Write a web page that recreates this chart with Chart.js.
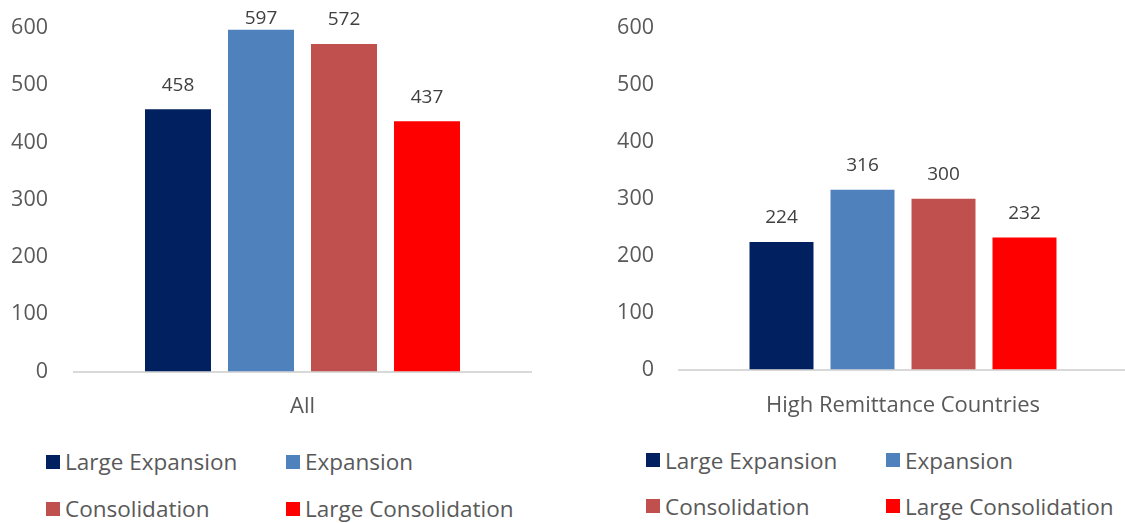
<!DOCTYPE html>
<html>
<head>
<meta charset="utf-8">
<script src="https://cdn.jsdelivr.net/npm/chart.js@4.4.1/dist/chart.umd.min.js"></script>
<style>
  html, body { margin: 0; padding: 0; background: #fff; }
  body { width: 1125px; height: 523px; position: relative; overflow: hidden; font-family: "Open Sans", sans-serif; }
  canvas { position: absolute; top: 0; }
  #chartAll { left: 0; }
  #chartHigh { left: 560px; }
  .legend { position: absolute; display: grid; grid-template-columns: 240px 240px; }
  .legend-item { display: flex; align-items: center; color: #595959; font-size: 22.5px; white-space: nowrap; }
  .legend-box { width: 14px; height: 14px; margin-right: 5px; flex: none; }
  #legendAll { left: 46px; top: 438px; grid-auto-rows: 47px; }
  #legendHigh { left: 646px; top: 437px; grid-auto-rows: 46px; }
</style>
</head>
<body>
<canvas id="chartAll" width="545" height="430"></canvas>
<canvas id="chartHigh" width="567" height="430"></canvas>
<div id="legendAll" class="legend"></div>
<div id="legendHigh" class="legend"></div>
<script>
const seriesNames = ['Large Expansion', 'Expansion', 'Consolidation', 'Large Consolidation'];
const seriesColors = ['#002060', '#4F81BD', '#C0504D', '#FF0000'];

const categoriesAll = ['All'];
const valuesAll = [458, 597, 572, 437];

const categoriesHigh = ['High Remittance Countries'];
const valuesHigh = [224, 316, 300, 232];

const yMin = 0;
const yMax = 600;
const yStep = 100;

const fontFamily = '"Open Sans", sans-serif';

// draws the number above each bar (kept inside the plot like excel does)
const valueLabels = {
    id: 'valueLabels',
    afterDatasetsDraw(chart) {
        const ctx = chart.ctx;
        ctx.save();
        ctx.font = '19px ' + fontFamily;
        ctx.fillStyle = '#404040';
        ctx.textAlign = 'center';
        ctx.textBaseline = 'middle';
        chart.data.datasets.forEach((ds, i) => {
            chart.getDatasetMeta(i).data.forEach((bar, j) => {
                const y = Math.max(bar.y - 24, chart.chartArea.top - 9);
                ctx.fillText(ds.data[j], bar.x, y);
            });
        });
        ctx.restore();
    }
};

function makeChart(id, categories, values, opts) {
    const ctx = document.getElementById(id).getContext('2d');
    return new Chart(ctx, {
        type: 'bar',
        data: {
            labels: categories,
            datasets: seriesNames.map((name, i) => ({
                label: name,
                data: [values[i]],
                backgroundColor: seriesColors[i],
                categoryPercentage: opts.catPct,
                barPercentage: opts.barPct
            }))
        },
        options: {
            responsive: false,
            animation: false,
            devicePixelRatio: 1,
            layout: { padding: { top: 28, right: opts.padRight, bottom: 0, left: 0 } },
            plugins: {
                legend: { display: false },
                tooltip: { enabled: false }
            },
            scales: {
                x: {
                    grid: { display: false, drawTicks: false },
                    border: { display: true, color: '#D9D9D9', width: 2 },
                    ticks: {
                        padding: opts.xPad,
                        color: '#595959',
                        font: { family: fontFamily, size: 22 }
                    },
                    afterFit: s => { s.height = opts.xHeight; }
                },
                y: {
                    min: yMin,
                    max: yMax,
                    grid: { display: false, drawTicks: false },
                    border: { display: false },
                    ticks: {
                        stepSize: yStep,
                        padding: opts.yPad,
                        color: '#595959',
                        font: { family: fontFamily, size: 21.5 }
                    },
                    afterFit: s => {
                        s.width = opts.yWidth;
                        // tick padding would otherwise push the plot top down
                        s.paddingTop = 0;
                        s.paddingBottom = 0;
                    }
                }
            }
        },
        plugins: [valueLabels]
    });
}

function buildLegend(chart, elId) {
    const el = document.getElementById(elId);
    const items = Chart.defaults.plugins.legend.labels.generateLabels(chart);
    items.forEach(item => {
        const div = document.createElement('div');
        div.className = 'legend-item';
        const box = document.createElement('span');
        box.className = 'legend-box';
        box.style.background = item.fillStyle;
        const txt = document.createElement('span');
        txt.textContent = item.text;
        div.appendChild(box);
        div.appendChild(txt);
        el.appendChild(div);
    });
}

const chartAll = makeChart('chartAll', categoriesAll, valuesAll, {
    catPct: 0.7265, barPct: 0.795, padRight: 14, yWidth: 74, yPad: 26, xPad: 22, xHeight: 58.5
});
const chartHigh = makeChart('chartHigh', categoriesHigh, valuesHigh, {
    catPct: 0.7232, barPct: 0.79, padRight: 0, yWidth: 119, yPad: 25, xPad: 23, xHeight: 60.5
});

buildLegend(chartAll, 'legendAll');
buildLegend(chartHigh, 'legendHigh');
</script>
</body>
</html>
